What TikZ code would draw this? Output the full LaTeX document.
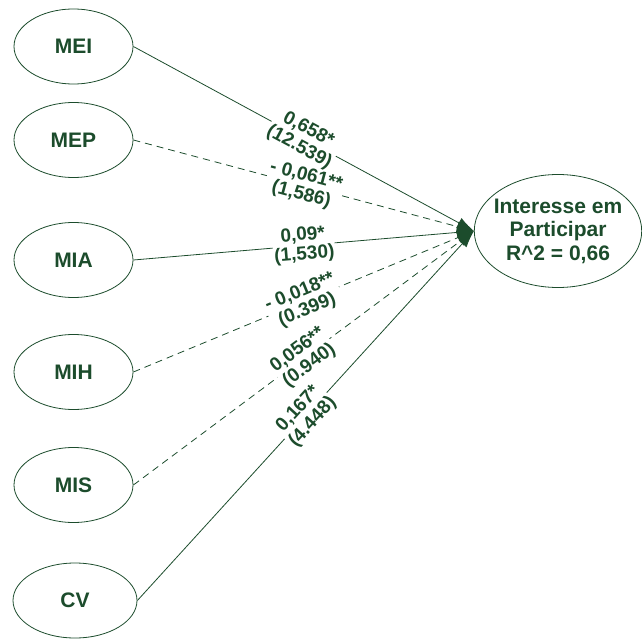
\documentclass[tikz,border=0pt]{standalone}
\usepackage{fontspec}
\setmainfont{Liberation Sans}
\usetikzlibrary{shapes.geometric,arrows.meta}
\definecolor{pathgreen}{RGB}{28,76,44}
\begin{document}
\begin{tikzpicture}[x=1pt,y=-1pt,
  latent/.style={ellipse,draw=pathgreen,line width=0.8pt,minimum width=119pt,minimum height=75pt,inner sep=0pt,text=pathgreen,font=\fontsize{21}{23}\selectfont\bfseries},
  effect/.style={draw=pathgreen,line width=0.8pt,-{Latex[length=17pt,width=11pt]}},
  weak/.style={effect,dash pattern=on 7pt off 5pt},
  coef/.style={midway,sloped,fill=white,inner sep=1pt,align=center,text=pathgreen,font=\fontsize{19}{19.5}\selectfont\bfseries}]
\useasboundingbox (0,0) rectangle (642,639);
\node[latent] (mei) at (73.5,46.5) {MEI};
\node[latent] (mep) at (73.5,140) {MEP};
\node[latent] (mia) at (73.5,260) {MIA};
\node[latent] (mih) at (73.5,372) {MIH};
\node[latent] (mis) at (73.5,485) {MIS};
\node[latent,minimum width=124pt] (cv) at (75,600.5) {CV};
\node[latent,minimum width=167pt,minimum height=113pt,inner xsep=-5pt,align=center,font=\fontsize{21}{23.5}\selectfont\bfseries] (interesse) at (558,231) {Interesse em\\Participar\\R\textasciicircum 2 = 0,66};
\draw[effect] (mei.east) -- node[coef] {0,658*\\(12.539)} (interesse.west);
\draw[weak] (mep.east) -- node[coef] {- 0,061**\\(1,586)} (interesse.west);
\draw[effect] (mia.east) -- node[coef] {0,09*\\(1,530)} (interesse.west);
\draw[weak] (mih.east) -- node[coef] {- 0,018**\\(0.399)} (interesse.west);
\draw[weak] (mis.east) -- node[coef] {0,056**\\(0.940)} (interesse.west);
\draw[effect] (cv.east) -- node[coef] {0,167*\\(4.448)} (interesse.west);
\end{tikzpicture}
\end{document}
